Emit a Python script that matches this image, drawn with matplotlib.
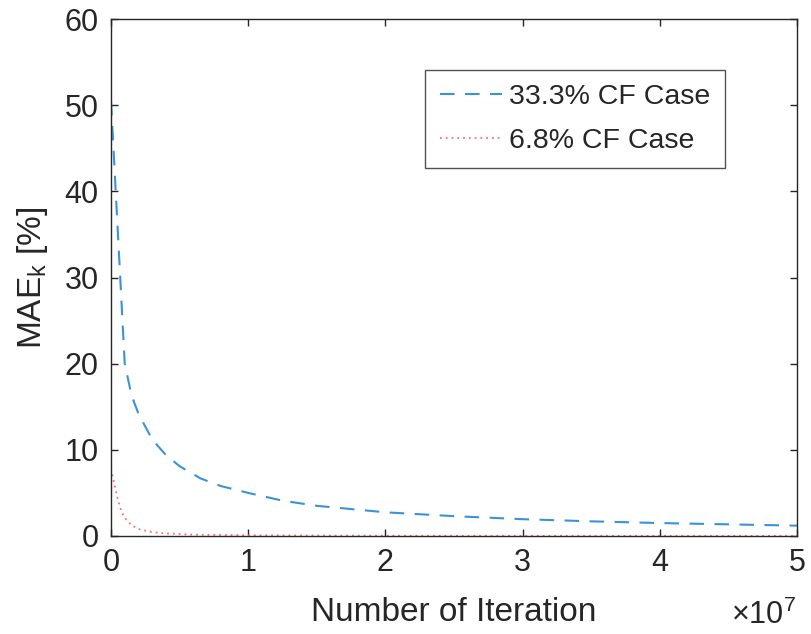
import matplotlib
matplotlib.use('Agg')
import matplotlib.pyplot as plt
from matplotlib.ticker import FuncFormatter

plt.rcParams['font.family'] = ['Liberation Sans', 'DejaVu Sans']
plt.rcParams['mathtext.fontset'] = 'custom'
plt.rcParams['mathtext.rm'] = 'Liberation Sans'
plt.rcParams['mathtext.it'] = 'Liberation Sans:italic'

# iterations and MAE_k [%]
iter_cf33 = [0, 1e6, 1.5e6, 2e6, 3e6, 4e6, 5e6, 6.5e6, 8e6, 1e7, 1.25e7, 1.5e7,
             2e7, 2.5e7, 3e7, 3.5e7, 4e7, 4.5e7, 5e7]
mae_cf33 = [50.5, 20.0, 16.3, 14.2, 11.2, 9.4, 8.1, 6.7, 5.8, 5.0, 4.1, 3.5,
            2.75, 2.3, 1.95, 1.7, 1.5, 1.35, 1.2]

iter_cf68 = [0, 2.5e5, 5e5, 7.5e5, 1e6, 1.5e6, 2e6, 3e6, 4e6, 6e6, 1e7, 2e7, 5e7]
mae_cf68 = [7.8, 6.0, 4.2, 2.9, 2.1, 1.25, 0.8, 0.45, 0.3, 0.15, 0.08, 0.03, 0.01]

labels = ['33.3% CF Case', '6.8% CF Case']
txt = '#262626'

fig = plt.figure(figsize=(8.12, 6.34), dpi=100)
ax = fig.add_axes([0.1367, 0.1546, 0.8448, 0.8154])

ax.plot(iter_cf33, mae_cf33, color='#3a93d6', lw=1.5, dashes=(7, 5), label=labels[0])
ax.plot(iter_cf68, mae_cf68, color='#ff6b6b', lw=1.3, dashes=(1, 2.2), label=labels[1])

ax.set_xlim(0, 5e7)
ax.set_ylim(0, 60)
ax.set_xticks([0, 1e7, 2e7, 3e7, 4e7, 5e7])
ax.set_yticks(range(0, 61, 10))
ax.xaxis.set_major_formatter(FuncFormatter(lambda v, p: f'{v / 1e7:g}'))

ax.tick_params(direction='in', length=5, width=1, colors=txt, labelsize=22,
               top=True, right=True)
ax.tick_params(axis='x', pad=9)
ax.tick_params(axis='y', pad=9)
for s in ax.spines.values():
    s.set_color(txt)
    s.set_linewidth(1)

ax.set_xlabel('Number of Iteration', fontsize=24, color=txt, labelpad=13)
ax.set_ylabel(r'MAE$_{\mathrm{k}}$ [%]', fontsize=24, color=txt, labelpad=10)
ax.text(0.998, -0.17, r'$\times10^{7}$', transform=ax.transAxes, ha='right',
        va='baseline', fontsize=22, color=txt)

leg = ax.legend(loc='upper right', bbox_to_anchor=(0.895, 0.901), fontsize=20.5,
                frameon=True, fancybox=False, borderaxespad=0, handlelength=2.2,
                handletextpad=0.25, borderpad=0.5, labelspacing=0.6)
leg.get_frame().set_edgecolor(txt)
leg.get_frame().set_linewidth(1)
for t in leg.get_texts():
    t.set_color(txt)

fig.savefig('out.png', dpi=100)
